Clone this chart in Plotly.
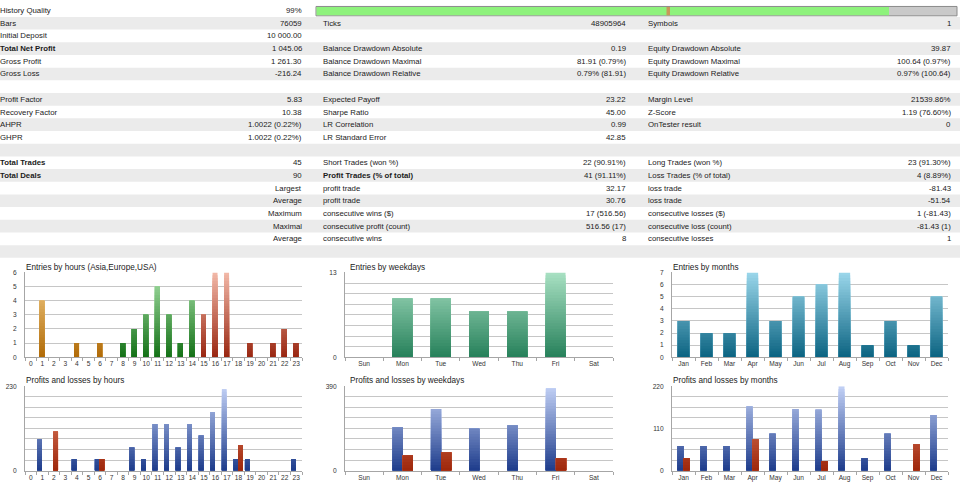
import plotly.graph_objects as go

W, H = 960, 496

# ---------------- data ----------------
col1_labels = ["History Quality", "Bars", "Initial Deposit", "Total Net Profit", "Gross Profit", "Gross Loss", "",
               "Profit Factor", "Recovery Factor", "AHPR", "GHPR", "",
               "Total Trades", "Total Deals", "", "", "", "", ""]
col1_values = ["99%", "76059", "10 000.00", "1 045.06", "1 261.30", "-216.24", "",
               "5.83", "10.38", "1.0022 (0.22%)", "1.0022 (0.22%)", "",
               "45", "90", "Largest", "Average", "Maximum", "Maximal", "Average"]
col2_labels = ["", "Ticks", "", "Balance Drawdown Absolute", "Balance Drawdown Maximal", "Balance Drawdown Relative", "",
               "Expected Payoff", "Sharpe Ratio", "LR Correlation", "LR Standard Error", "",
               "Short Trades (won %)", "Profit Trades (% of total)", "profit trade", "profit trade",
               "consecutive wins ($)", "consecutive profit (count)", "consecutive wins"]
col2_values = ["", "48905964", "", "0.19", "81.91 (0.79%)", "0.79% (81.91)", "",
               "23.22", "45.00", "0.99", "42.85", "",
               "22 (90.91%)", "41 (91.11%)", "32.17", "30.76", "17 (516.56)", "516.56 (17)", "8"]
col3_labels = ["", "Symbols", "", "Equity Drawdown Absolute", "Equity Drawdown Maximal", "Equity Drawdown Relative", "",
               "Margin Level", "Z-Score", "OnTester result", "", "",
               "Long Trades (won %)", "Loss Trades (% of total)", "loss trade", "loss trade",
               "consecutive losses ($)", "consecutive loss (count)", "consecutive losses"]
col3_values = ["", "1", "", "39.87", "100.64 (0.97%)", "0.97% (100.64)", "",
               "21539.86%", "1.19 (76.60%)", "0", "", "",
               "23 (91.30%)", "4 (8.89%)", "-81.43", "-51.54", "1 (-81.43)", "-81.43 (1)", "1"]
bold_labels = ["Total Net Profit", "Total Trades", "Total Deals", "Profit Trades (% of total)"]

hours = ["0", "1", "2", "3", "4", "5", "6", "7", "8", "9", "10", "11",
         "12", "13", "14", "15", "16", "17", "18", "19", "20", "21", "22", "23"]
hour_session = ["Asia"] * 8 + ["Europe"] * 7 + ["USA"] * 9
entries_by_hour = [0, 4, 0, 0, 1, 0, 1, 0, 1, 2, 3, 5, 3, 1, 4, 3, 6, 6, 0, 1, 0, 1, 2, 1]
weekdays = ["Sun", "Mon", "Tue", "Wed", "Thu", "Fri", "Sat"]
entries_by_weekday = [0, 9, 9, 7, 7, 13, 0]
months = ["Jan", "Feb", "Mar", "Apr", "May", "Jun", "Jul", "Aug", "Sep", "Oct", "Nov", "Dec"]
entries_by_month = [3, 2, 2, 7, 3, 5, 6, 7, 1, 3, 1, 5]

profit_by_hour = [0, 85, 0, 0, 31, 0, 31, 0, 0, 63, 31, 127, 127, 63, 127, 96, 159, 222, 31, 31, 0, 0, 0, 31]
loss_by_hour = [0, 0, 106, 0, 0, 0, 32, 0, 0, 0, 0, 0, 0, 0, 0, 0, 0, 0, 70, 0, 0, 0, 0, 0]
profit_by_weekday = [0, 200, 285, 193, 209, 382, 0]
loss_by_weekday = [0, 70, 84, 0, 0, 58, 0]
profit_by_month = [64, 64, 64, 167, 96, 160, 159, 220, 32, 96, 0, 145]
loss_by_month = [32, 0, 0, 82, 0, 0, 25, 0, 0, 0, 69, 0]

# ---------------- styles ----------------
FONT = "Liberation Sans"
TXT = "#1b1b1b"
ROW_H = 12.86
ROW0 = 0.27
GRAY_ROW = "#ebebeb"
TABLE_FS = 7.8

session_colors = {
    "Asia": ("#b06a06", "#f6d08c"),
    "Europe": ("#137016", "#a9e2a9"),
    "USA": ("#982610", "#f3b9a9"),
}
WEEK_C = ("#26805a", "#a9e1c3")
MONTH_C = ("#0b6381", "#9bd7eb")
BLUE_C = ("#1d3b8b", "#c3d2f6")
RED_C = ("#9e260a", "#ec9478")


def fx(px):
    return px / W


def fy(py):
    return 1 - py / H


def hex2rgb(h):
    h = h.lstrip("#")
    return [int(h[i:i + 2], 16) for i in (0, 2, 4)]


def mix(c1, c2, t):
    a, b = hex2rgb(c1), hex2rgb(c2)
    return "rgb(%d,%d,%d)" % tuple(round(a[i] + (b[i] - a[i]) * t) for i in range(3))


fig = go.Figure()
shapes = []
annotations = []

# ---------------- table ----------------
n_rows = len(col1_values)
for i in range(n_rows + 1):
    if i % 2 == 1:
        top = ROW0 + ROW_H * i
        shapes.append(dict(type="rect", xref="paper", yref="paper", x0=0, x1=1,
                           y0=fy(top + ROW_H), y1=fy(top), fillcolor=GRAY_ROW,
                           line=dict(width=0), layer="below"))


def txt(x, yc, s, anchor, bold=False):
    if not s:
        return
    annotations.append(dict(xref="paper", yref="paper", x=fx(x), y=fy(yc), text=("<b>%s</b>" % s) if bold else s,
                            xanchor=anchor, yanchor="middle", showarrow=False,
                            font=dict(family=FONT, size=TABLE_FS, color=TXT), borderpad=0))


for i in range(n_rows):
    yc = ROW0 + ROW_H * i + ROW_H / 2
    txt(-1, yc, col1_labels[i], "left", col1_labels[i] in bold_labels)
    txt(303, yc, col1_values[i], "right")
    txt(322, yc, col2_labels[i], "left", col2_labels[i] in bold_labels)
    txt(627, yc, col2_values[i], "right")
    txt(647, yc, col3_labels[i], "left", col3_labels[i] in bold_labels)
    txt(952, yc, col3_values[i], "right")

# history quality bar
shapes.append(dict(type="rect", xref="paper", yref="paper", x0=fx(316), x1=fx(957), y0=fy(12), y1=fy(2.5),
                   fillcolor="#c9c9c9", line=dict(width=1, color="#8a8a8a")))
shapes.append(dict(type="rect", xref="paper", yref="paper", x0=fx(316.5), x1=fx(889), y0=fy(11.5), y1=fy(3),
                   fillcolor="#8ef27c", line=dict(width=0)))
shapes.append(dict(type="rect", xref="paper", yref="paper", x0=fx(666.5), x1=fx(670), y0=fy(11.5), y1=fy(3),
                   fillcolor="#c8985a", line=dict(width=0)))

# ---------------- charts ----------------
XDOM = [(25, 302), (345, 613), (672, 948)]
YDOM = [(272.3, 358.3), (387.7, 473.3)]
NB = 30


def gradient_bars(ax, cats, vals, ymax, darks, lights, offset, width):
    for k in range(NB - 1, -1, -1):
        hi = ymax * (k + 1) / NB
        t = (k + 0.5) / NB
        heights = [min(v, hi) for v in vals]
        colors = [mix(d, l, t) for d, l in zip(darks, lights)]
        fig.add_trace(go.Bar(x=cats, y=heights, base=0, offset=offset, width=width,
                             marker=dict(color=colors, line=dict(width=0)),
                             xaxis="x%d" % ax, yaxis="y%d" % ax, hoverinfo="skip", showlegend=False))


def setup_axes(ax, col, row, cats, ymax, tickvals, ticktext, title):
    x0, x1 = XDOM[col]
    y0, y1 = YDOM[row]
    sfx = "" if ax == 1 else str(ax)
    fig.layout["xaxis" + sfx] = dict(domain=[fx(x0), fx(x1)], anchor="y" + sfx, type="category",
                                     categoryorder="array", categoryarray=cats,
                                     range=[-0.5, len(cats) - 0.5], showgrid=False, zeroline=False,
                                     showline=True, linecolor="#a6a6a6", linewidth=1,
                                     ticks="outside", tickson="boundaries", ticklen=3, tickcolor="#a6a6a6",
                                     tickangle=0,
                                     tickfont=dict(family=FONT, size=6.6, color="#333"), fixedrange=True)
    fig.layout["yaxis" + sfx] = dict(domain=[fy(y1), fy(y0)], anchor="x" + sfx, range=[0, ymax],
                                     tickmode="array", tickvals=tickvals, ticktext=ticktext,
                                     showgrid=True, gridcolor="#c6c6c6", gridwidth=1, zeroline=False,
                                     showline=True, linecolor="#a6a6a6", linewidth=1,
                                     ticks="", ticklabelstandoff=6,
                                     tickfont=dict(family=FONT, size=6.6, color="#333"), fixedrange=True)
    tx = x0 if col == 0 else x0 + 4 if col == 1 else x0
    annotations.append(dict(xref="paper", yref="paper", x=fx(tx), y=fy(y0 - 5.5), text=title,
                            xanchor="left", yanchor="middle", showarrow=False,
                            font=dict(family=FONT, size=8.2, color=TXT), borderpad=0))


def eight(ymax, labeled):
    vals = [ymax * i / 8 for i in range(9)]
    text = [("%g" % v) if i in labeled else "" for i, v in enumerate(vals)]
    return vals, text


# 1. entries by hours
gradient_bars(1, hours, entries_by_hour, 6,
              [session_colors[s][0] for s in hour_session], [session_colors[s][1] for s in hour_session],
              -0.25, 0.43)
setup_axes(1, 0, 0, hours, 6, list(range(7)), [str(i) for i in range(7)], "Entries by hours (Asia,Europe,USA)")

# 2. entries by weekdays
gradient_bars(2, weekdays, entries_by_weekday, 13, [WEEK_C[0]] * 7, [WEEK_C[1]] * 7, -0.26, 0.52)
tv, tt = eight(13, [0, 8])
setup_axes(2, 1, 0, weekdays, 13, tv, tt, "Entries by weekdays")

# 3. entries by months
gradient_bars(3, months, entries_by_month, 7, [MONTH_C[0]] * 12, [MONTH_C[1]] * 12, -0.245, 0.49)
setup_axes(3, 2, 0, months, 7, list(range(8)), [str(i) for i in range(8)], "Entries by months")

# 4. P&L by hours
gradient_bars(4, hours, profit_by_hour, 230, [BLUE_C[0]] * 24, [BLUE_C[1]] * 24, -0.44, 0.4)
gradient_bars(4, hours, loss_by_hour, 230, [RED_C[0]] * 24, [RED_C[1]] * 24, -0.04, 0.4)
tv, tt = eight(230, [0, 8])
setup_axes(4, 0, 1, hours, 230, tv, tt, "Profits and losses by hours")

# 5. P&L by weekdays
gradient_bars(5, weekdays, profit_by_weekday, 390, [BLUE_C[0]] * 7, [BLUE_C[1]] * 7, -0.255, 0.265)
gradient_bars(5, weekdays, loss_by_weekday, 390, [RED_C[0]] * 7, [RED_C[1]] * 7, 0.01, 0.265)
tv, tt = eight(390, [0, 8])
setup_axes(5, 1, 1, weekdays, 390, tv, tt, "Profits and losses by weekdays")

# 6. P&L by months
gradient_bars(6, months, profit_by_month, 220, [BLUE_C[0]] * 12, [BLUE_C[1]] * 12, -0.26, 0.26)
gradient_bars(6, months, loss_by_month, 220, [RED_C[0]] * 12, [RED_C[1]] * 12, 0.0, 0.26)
tv, tt = eight(220, [0, 4, 8])
setup_axes(6, 2, 1, months, 220, tv, tt, "Profits and losses by months")

fig.update_layout(width=W, height=H, margin=dict(l=0, r=0, t=0, b=0),
                  paper_bgcolor="white", plot_bgcolor="white", barmode="overlay",
                  showlegend=False, shapes=shapes, annotations=annotations,
                  font=dict(family=FONT, size=8, color=TXT))

fig.write_html("out.html", config={"displayModeBar": False, "staticPlot": True},
               post_script="document.body.style.margin='0';document.body.style.overflow='hidden';")
